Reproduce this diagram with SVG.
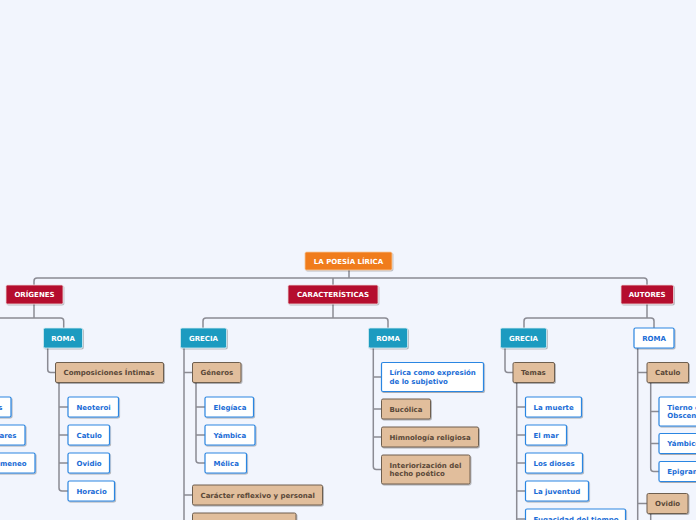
<svg xmlns="http://www.w3.org/2000/svg" width="696" height="520" viewBox="0 0 696 520">
<defs>
<filter id="sh" x="-10%" y="-20%" width="130%" height="160%">
<feDropShadow dx="0.8" dy="1" stdDeviation="0.6" flood-color="#000" flood-opacity="0.3"/>
</filter>
<style>
text{font-family:"DejaVu Sans","Liberation Sans",sans-serif;font-size:7px;font-weight:bold}
.root rect{fill:#f07c1a;stroke:#f8c9a0;stroke-width:0.8;filter:url(#sh)}
.red rect{fill:#b5112e;stroke:#eed6db;stroke-width:0.8;filter:url(#sh)}
.teal rect{fill:#1b9bc0;stroke:#d3ecf4;stroke-width:0.8;filter:url(#sh)}
.hd text{fill:#fff;text-anchor:middle}
.blue rect{fill:#fff;stroke:#2c86e2;stroke-width:1.2;filter:url(#sh)}
.blue text{fill:#1a6cd6}
.tan rect{fill:#e1be9c;stroke:#6e5e4f;stroke-width:1;filter:url(#sh)}
.tan text{fill:#5a4838}
.lines path{fill:none;stroke:#8b8b93;stroke-width:1.5}
</style>
</defs>
<rect x="0" y="0" width="696" height="520" fill="#f2f5fd"/>
<g class="lines" id="connectors">
<path d="M349 270V278"/>
<path d="M34 285V281Q34 278 37 278H644Q647 278 647 281V285"/>
<path d="M333 278V285"/>
<path d="M34 304V318"/>
<path d="M-10 318H60.7Q63.7 318 63.7 321V328"/>
<path d="M333 304V318"/>
<path d="M203 328V321Q203 318 206 318H385Q388 318 388 321V328"/>
<path d="M647 304V318"/>
<path d="M524 328V321Q524 318 527 318H651Q654 318 654 321V328"/>
<path d="M47.7 348V369.5Q47.7 372.5 50.7 372.5H55.5"/>
<path d="M59 382.5V488Q59 491 62 491H68M59 407H68M59 435H68M59 463H68"/>
<path d="M184 348V530M184 372.5H192.5M184 495H192.5"/>
<path d="M196 382.5V460Q196 463 199 463H205M196 407H205M196 435H205"/>
<path d="M373.3 348V466.5Q373.3 469.5 376.3 469.5H381.5M373.3 377H381.5M373.3 409H381.5M373.3 437H381.5"/>
<path d="M505 348V369.5Q505 372.5 508 372.5H513"/>
<path d="M516.7 382.5V530M516.7 407H525.5M516.7 435H525.5M516.7 463H525.5M516.7 491H525.5M516.7 519H525.5"/>
<path d="M637.7 348V530M637.7 372.5H647M637.7 503.5H647"/>
<path d="M650.7 382.5V468.5Q650.7 471.5 653.7 471.5H659M650.7 411.5H659M650.7 443.5H659"/>
<path d="M650.7 513.5V530"/>
</g>
<g id="root" class="root hd"><rect x="305" y="252" width="87" height="18" rx="1.5"/><text x="348.5" y="263.5">LA POESÍA LÍRICA</text></g>
<g id="origenes" class="red hd"><rect x="6" y="285" width="57" height="19" rx="1.5"/><text x="34.5" y="297">ORÍGENES</text></g>
<g id="caracteristicas" class="red hd"><rect x="288" y="285" width="90" height="19" rx="1.5"/><text x="333" y="297">CARACTERÍSTICAS</text></g>
<g id="autores" class="red hd"><rect x="621" y="285" width="52.5" height="19" rx="1.5"/><text x="647.2" y="297">AUTORES</text></g>
<g id="roma-origenes" class="teal hd"><rect x="43.5" y="328" width="39" height="20" rx="1.5"/><text x="63" y="340.5">ROMA</text></g>
<g id="grecia-caract" class="teal hd"><rect x="180.5" y="328" width="46" height="20" rx="1.5"/><text x="203.5" y="340.5">GRECIA</text></g>
<g id="roma-caract" class="teal hd"><rect x="368.5" y="328" width="39" height="20" rx="1.5"/><text x="388" y="340.5">ROMA</text></g>
<g id="grecia-autores" class="teal hd"><rect x="500.5" y="328" width="46" height="20" rx="1.5"/><text x="523.5" y="340.5">GRECIA</text></g>
<g id="roma-autores" class="blue"><rect x="634" y="328" width="40" height="20" rx="1.5"/><text x="654" y="340.5" text-anchor="middle">ROMA</text></g>
<g id="composiciones" class="tan"><rect x="55.5" y="362.5" width="108" height="20" rx="1.5"/><text x="63.5" y="375">Composiciones Íntimas</text></g>
<g id="neoteroi" class="blue"><rect x="68" y="397" width="50.5" height="20" rx="1.5"/><text x="76.5" y="409.5">Neoteroi</text></g>
<g id="catulo-o" class="blue"><rect x="68" y="425" width="41.5" height="20" rx="1.5"/><text x="76.5" y="437.5">Catulo</text></g>
<g id="ovidio-o" class="blue"><rect x="68" y="453" width="41.5" height="20" rx="1.5"/><text x="76.5" y="465.5">Ovidio</text></g>
<g id="horacio" class="blue"><rect x="68" y="481" width="46.5" height="20" rx="1.5"/><text x="76.5" y="493.5">Horacio</text></g>
<g id="left-1" class="blue"><rect x="-40" y="397" width="51" height="20" rx="1.5"/><text x="2.5" y="409.5" text-anchor="end">Trenos</text></g>
<g id="left-2" class="blue"><rect x="-70" y="425" width="95" height="20" rx="1.5"/><text x="16.5" y="437.5" text-anchor="end">Cantos populares</text></g>
<g id="left-3" class="blue"><rect x="-30" y="453" width="65" height="20" rx="1.5"/><text x="26.5" y="465.5" text-anchor="end">Himeneo</text></g>
<g id="generos" class="tan"><rect x="192.5" y="362.5" width="48.5" height="20" rx="1.5"/><text x="200.5" y="375">Géneros</text></g>
<g id="elegiaca" class="blue"><rect x="205" y="397" width="48.5" height="20" rx="1.5"/><text x="213.5" y="409.5">Elegíaca</text></g>
<g id="yambica" class="blue"><rect x="205" y="425" width="50" height="20" rx="1.5"/><text x="213.5" y="437.5">Yámbica</text></g>
<g id="melica" class="blue"><rect x="205" y="453" width="41.5" height="20" rx="1.5"/><text x="213.5" y="465.5">Mélica</text></g>
<g id="caracter" class="tan"><rect x="192.5" y="485" width="130" height="20" rx="1.5"/><text x="200.5" y="497.5">Carácter reflexivo y personal</text></g>
<g id="next-caract" class="tan"><rect x="192.5" y="513" width="103.5" height="20" rx="1.5"/></g>
<g id="lirica" class="blue"><rect x="381.5" y="362.5" width="102" height="29" rx="1.5"/><text x="389.5" y="375.2">Lírica como expresión</text><text x="389.5" y="383.9">de lo subjetivo</text></g>
<g id="bucolica" class="tan"><rect x="381.5" y="399" width="49" height="20" rx="1.5"/><text x="389.5" y="411.5">Bucólica</text></g>
<g id="himnologia" class="tan"><rect x="381.5" y="427" width="97" height="20" rx="1.5"/><text x="389.5" y="439.5">Himnología religiosa</text></g>
<g id="interiorizacion" class="tan"><rect x="381.5" y="455" width="88.5" height="29" rx="1.5"/><text x="389.5" y="467.8">Interiorización del</text><text x="389.5" y="475.8">hecho poético</text></g>
<g id="temas" class="tan"><rect x="513" y="362.5" width="41.5" height="20" rx="1.5"/><text x="521" y="375">Temas</text></g>
<g id="muerte" class="blue"><rect x="525.5" y="397" width="56" height="20" rx="1.5"/><text x="533.5" y="409.5">La muerte</text></g>
<g id="mar" class="blue"><rect x="525.5" y="425" width="41" height="20" rx="1.5"/><text x="533.5" y="437.5">El mar</text></g>
<g id="dioses" class="blue"><rect x="525.5" y="453" width="57" height="20" rx="1.5"/><text x="533.5" y="465.5">Los dioses</text></g>
<g id="juventud" class="blue"><rect x="525.5" y="481" width="63" height="20" rx="1.5"/><text x="533.5" y="493.5">La juventud</text></g>
<g id="fugacidad" class="blue"><rect x="525.5" y="509" width="100" height="20" rx="1.5"/><text x="533.5" y="521.5">Fugacidad del tiempo</text></g>
<g id="catulo-a" class="tan"><rect x="647" y="362.5" width="41.5" height="20" rx="1.5"/><text x="655" y="375">Catulo</text></g>
<g id="tierno" class="blue"><rect x="659" y="397" width="70" height="29" rx="1.5"/><text x="667.3" y="409.8">Tierno e íntimo</text><text x="667.3" y="417.8">Obsceno</text></g>
<g id="yambicos" class="blue"><rect x="659" y="433.5" width="50" height="20" rx="1.5"/><text x="667.3" y="446">Yámbicos</text></g>
<g id="epigramas" class="blue"><rect x="659" y="461.5" width="60" height="20" rx="1.5"/><text x="667.3" y="474">Epigramas</text></g>
<g id="ovidio-a" class="tan"><rect x="647" y="493.5" width="41" height="20" rx="1.5"/><text x="655" y="506">Ovidio</text></g>
</svg>
